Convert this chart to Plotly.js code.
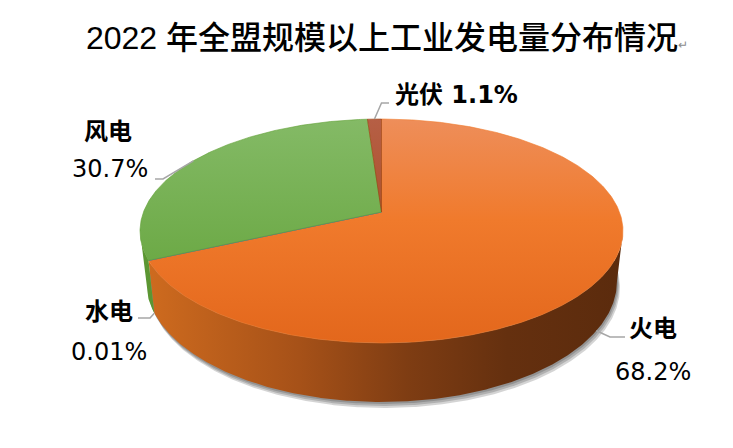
<!DOCTYPE html>
<html>
<head>
<meta charset="utf-8">
<script src="https://cdn.plot.ly/plotly-3.0.1.min.js"></script>
<style>
  html, body { margin: 0; padding: 0; background: #fff; }
  #chart { width: 733px; height: 448px; }
</style>
</head>
<body>
<div id="chart"></div>
<script>
// 2022 generation mix by source (percent of total)
const categories = ['火电', '水电', '风电', '光伏'];
const shares = [68.2, 0.01, 30.7, 1.1];
const shareLabels = ['68.2%', '0.01%', '30.7%', '1.1%'];

// Colours of each slice: top face gradient (back -> front) and side wall gradient (left -> right)
const topColors = [
  [[0, '#EE8E5A'], [0.45, '#F07A2C'], [1, '#E3671C']],
  [[0, '#5B8BD6'], [1, '#3F6CB8']],
  [[0, '#84BA66'], [1, '#5FA034']],
  [[0, '#B65F45'], [1, '#9E410E']]
];
const sideColors = [
  [[0, '#D06C1F'], [0.33, '#A65118'], [0.55, '#7F3D13'], [0.76, '#65300F'], [1, '#5B2B0D']],
  [[0, '#3A63A8'], [1, '#2A4A80']],
  [[0, '#5C9733'], [1, '#3F6E22']],
  [[0, '#8A3A10'], [1, '#5A250A']]
];

// Projection of the tilted disc (perspective ellipse)
const cx = 381.5, apexY = 212, rimA = 238, persp = 0.1696, tiltC = -72.8;
const depth = 49, bottomShrink = 0.975;
const rad = d => d * Math.PI / 180;

function topPt(deg) {
  const u = Math.sin(rad(deg)), v = Math.cos(rad(deg)), w = 1 + persp * v;
  return [cx + rimA * u / w, (apexY + tiltC * v) / w];
}
function botPt(deg) {
  const p = topPt(deg), v = Math.cos(rad(deg));
  return [cx + (p[0] - cx) * bottomShrink, p[1] + depth / (1 + persp * v)];
}
function arc(fn, a, b) {
  const n = Math.max(2, Math.ceil(Math.abs(b - a) / 0.5));
  const pts = [];
  for (let i = 0; i <= n; i++) pts.push(fn(a + (b - a) * i / n));
  return pts;
}

// visible part of the wall: between the two silhouette tangents
const silL = Math.acos(-persp) * 180 / Math.PI;
const silR = 360 - silL;

const total = shares.reduce((s, v) => s + v, 0);
const starts = [], ends = [];
let acc = 0;
shares.forEach(v => { starts.push(acc / total * 360); acc += v; ends.push(acc / total * 360); });

const traces = [];

// soft shadow under the disc
[[1, 2], [2, 4], [3, 6]].forEach(([dx, dy]) => {
  const ring = arc(botPt, 0, 360);
  traces.push({
    type: 'scatter', mode: 'lines', fill: 'toself',
    x: ring.map(p => p[0] + dx), y: ring.map(p => p[1] + dy),
    line: { width: 0 }, fillcolor: 'rgba(0,0,0,0.17)', hoverinfo: 'skip'
  });
});

// side walls
shares.forEach((v, i) => {
  const a = Math.max(starts[i], silL), b = Math.min(ends[i], silR);
  if (b <= a) return;
  const top = arc(topPt, a, b), bot = arc(botPt, b, a);
  const poly = top.concat(bot);
  poly.push(top[0]);
  traces.push({
    type: 'scatter', mode: 'lines', fill: 'toself',
    x: poly.map(p => p[0]), y: poly.map(p => p[1]),
    line: { width: 0 },
    fillgradient: { type: 'horizontal', colorscale: sideColors[i], start: 140, stop: 623 },
    hoverinfo: 'skip'
  });
});

// top faces
shares.forEach((v, i) => {
  const rim = arc(topPt, starts[i], ends[i]);
  const poly = [[cx, apexY]].concat(rim, [[cx, apexY]]);
  traces.push({
    type: 'scatter', mode: 'lines', fill: 'toself',
    x: poly.map(p => p[0]), y: poly.map(p => p[1]),
    line: { width: 0.6, color: topColors[i][1][1] },
    fillgradient: { type: 'vertical', colorscale: topColors[i], start: 119, stop: 343 },
    name: categories[i], hoverinfo: 'skip'
  });
});

// data labels with leader lines
const labelFont = { family: 'DejaVu Sans, Noto Sans CJK SC, sans-serif', size: 24, color: '#000' };
const labelLayout = [
  { name: [653, 329], value: [653, 372], elbow: [610, 337], end: [625, 337] },
  { name: [108.5, 312], value: [109, 352], elbow: [150, 318], end: [138, 318] },
  { name: [108, 132], value: [110, 169], elbow: [163, 179], end: [155, 179] },
  { inline: [393, 95], elbow: [381.5, 103], end: [389, 103] }
];
const annotations = [];
shares.forEach((v, i) => {
  const mid = (starts[i] + ends[i]) / 2;
  const front = mid > silL && mid < silR;
  const p0 = front ? botPt(mid) : topPt(mid);
  const L = labelLayout[i];
  traces.push({
    type: 'scatter', mode: 'lines',
    x: [p0[0], L.elbow[0], L.end[0]], y: [p0[1], L.elbow[1], L.end[1]],
    line: { color: '#A6A6A6', width: 1.5 }, hoverinfo: 'skip'
  });
  if (L.inline) {
    annotations.push({
      x: L.inline[0], y: L.inline[1], xref: 'x', yref: 'y', showarrow: false,
      text: '<b>' + categories[i] + ' ' + shareLabels[i] + '</b>',
      xanchor: 'left', yanchor: 'middle', font: labelFont
    });
  } else {
    annotations.push({
      x: L.name[0], y: L.name[1], xref: 'x', yref: 'y', showarrow: false,
      text: '<b>' + categories[i] + '</b>',
      xanchor: 'center', yanchor: 'middle', font: labelFont
    });
    annotations.push({
      x: L.value[0], y: L.value[1], xref: 'x', yref: 'y', showarrow: false,
      text: shareLabels[i],
      xanchor: 'center', yanchor: 'middle', font: labelFont
    });
  }
});

const layout = {
  width: 733, height: 448,
  margin: { l: 0, r: 0, t: 0, b: 0 },
  paper_bgcolor: '#fff', plot_bgcolor: '#fff',
  showlegend: false, hovermode: false,
  title: {
    text: '2022 年全盟规模以上工业发电量分布情况<span style="font-size:12px;color:#8c8c8c">↵</span>',
    font: { family: 'Liberation Sans, Noto Sans CJK SC, sans-serif', size: 32, color: '#000', weight: 500 },
    x: 0.528, xanchor: 'center', y: 0.915, yanchor: 'middle'
  },
  xaxis: { range: [0, 733], visible: false, fixedrange: true },
  yaxis: { range: [448, 0], visible: false, fixedrange: true },
  annotations: annotations
};

Plotly.newPlot('chart', traces, layout, { staticPlot: true, displayModeBar: false });
</script>
</body>
</html>
